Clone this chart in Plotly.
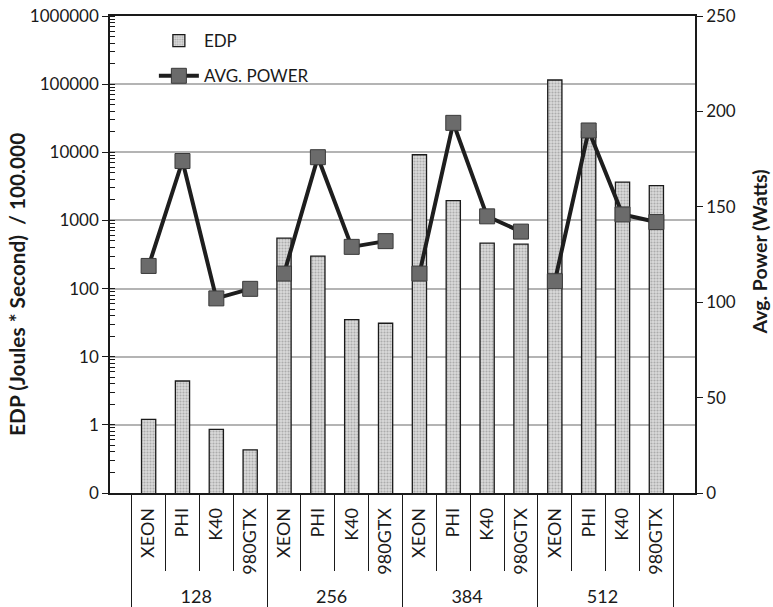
import plotly.graph_objects as go

# Problem sizes and devices
groups = ["128", "256", "384", "512"]
devices = ["XEON", "PHI", "K40", "980GTX"]

# Energy-delay product (Joules * Second) / 100.000, per group then device
edp = [1.2, 4.4, 0.86, 0.43,
       550, 300, 35, 31,
       9200, 1950, 465, 450,
       115000, 20000, 3650, 3250]

# Average power in Watts
power = [119, 174, 102, 107,
         115, 176, 129, 132,
         115, 194, 145, 137,
         111, 190, 146, 142]

# Left axis tick labels (log scale)
edp_tickvals = [0.1, 1, 10, 100, 1000, 10000, 100000, 1000000]
edp_ticktext = ["0", "1", "10", "100", "1000", "10000", "100000", "1000000"]
power_tickvals = [0, 50, 100, 150, 200, 250]

outer = [g for g in groups for _ in devices]
inner = [d for _ in groups for d in devices]

FONT = "Lato, Open Sans, sans-serif"
INK = "#1a1a1a"

fig = go.Figure()

fig.add_trace(go.Bar(
    x=[outer, inner], y=edp, name="EDP",
    marker=dict(
        color="#d4d4d4",
        line=dict(color=INK, width=1.3),
        pattern=dict(shape=".", fgcolor="#7e7e7e", bgcolor="#dadada",
                     size=3, solidity=0.4),
    ),
    width=0.42,
))

# Power line, drawn per problem size so the groups stay unconnected
n = len(devices)
for k, g in enumerate(groups):
    fig.add_trace(go.Scatter(
        x=[outer[k * n:(k + 1) * n], inner[k * n:(k + 1) * n]],
        y=power[k * n:(k + 1) * n],
        name="AVG. POWER", legendgroup="power", showlegend=(k == 0),
        mode="lines+markers", yaxis="y2",
        line=dict(color="#1e1e1e", width=4),
        marker=dict(symbol="square", size=15, color="#6b6b6b",
                    line=dict(color="#3a3a3a", width=1)),
    ))

fig.update_layout(
    width=773, height=607,
    margin=dict(l=110, r=78, t=16, b=114, autoexpand=False),
    paper_bgcolor="white", plot_bgcolor="white",
    font=dict(family=FONT, size=17, color=INK),
    showlegend=True,
    legend=dict(x=0.075, y=0.985, xanchor="left", yanchor="top",
                bgcolor="rgba(0,0,0,0)", font=dict(size=17),
                itemwidth=40, tracegroupgap=10),
    bargap=0.58,
    xaxis=dict(
        type="multicategory", showline=True, linecolor=INK, linewidth=1.5,
        mirror=True, ticks="outside", ticklen=76, tickcolor=INK,
        tickson="boundaries", tickangle=-90, showdividers=True,
        dividercolor=INK, dividerwidth=1.3, automargin=False,
        ticklabelstandoff=6,
        tickfont=dict(size=18), showgrid=False,
    ),
    yaxis=dict(
        type="log", range=[-1, 6], tickvals=edp_tickvals, ticktext=edp_ticktext,
        ticks="outside", ticklen=6, tickcolor=INK, automargin=False,
        showline=True, linecolor=INK, linewidth=1.5,
        gridcolor="#b4b4b4", gridwidth=1.5, zeroline=False,
        minor=dict(ticks="inside", ticklen=5, tickcolor=INK,
                   showgrid=False, dtick="D1"),
        tickfont=dict(size=17),
    ),
    yaxis2=dict(
        overlaying="y", side="right", range=[0, 250], tickvals=power_tickvals,
        ticks="outside", ticklen=6, tickcolor=INK, automargin=False,
        showline=True, linecolor=INK, linewidth=1.5,
        showgrid=False, zeroline=False, tickfont=dict(size=17),
    ),
    annotations=[
        dict(text="<b>EDP (Joules * Second)  / 100.000</b>", textangle=-90,
             xref="paper", yref="paper", x=-0.161, y=0.438,
             xanchor="center", yanchor="middle", showarrow=False,
             font=dict(size=20.8)),
        dict(text="<b>Avg. Power (Watts)</b>", textangle=-90,
             xref="paper", yref="paper", x=1.111, y=0.506,
             xanchor="center", yanchor="middle", showarrow=False,
             font=dict(size=19.5)),
    ],
)

fig.write_html("out.html")
